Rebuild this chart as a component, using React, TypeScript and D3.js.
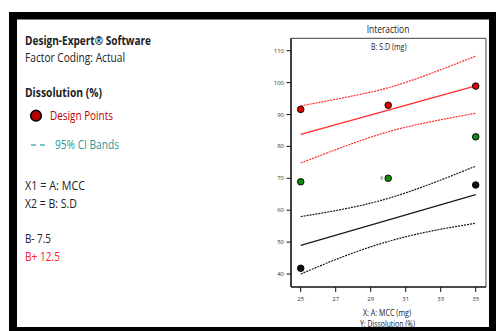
import React from "react";
import * as d3 from "d3";

// Factor A (MCC, mg) levels and axis ticks
const mccTicks = [25, 27, 29, 31, 33, 35];
const dissolutionTicks = [40, 50, 60, 70, 80, 90, 100, 110];

// Design points (Dissolution %) by level of B (S.D)
const redPointsX = [25, 30, 35];
const redPointsY = [91.6, 92.9, 98.9];
const greenPointsX = [25, 30, 35];
const greenPointsY = [68.9, 70.0, 83.0];
const blackPointsX = [25, 35];
const blackPointsY = [41.8, 67.9];

// Fitted lines and 95% CI bands
const fitX = [25, 35];
const fitHigh = [83.8, 99.0]; // B+ 12.5
const fitLow = [49.0, 64.9]; // B- 7.5
const bandX = [25, 27.5, 30, 32.5, 35];
const highUpper = [92.7, 95.3, 98.4, 103.0, 108.3];
const highLower = [74.8, 80.0, 84.6, 87.8, 90.4];
const lowUpper = [58.0, 60.4, 63.7, 68.4, 73.8];
const lowLower = [40.0, 45.6, 50.2, 53.5, 55.9];

const W = 496;
const H = 331;
const plot = { left: 291, right: 486, top: 38.3, bottom: 287 };
const FONT = "'Open Sans', 'Noto Sans', sans-serif";

export default function App() {
  const x = d3.scaleLinear().domain([25, 35]).range([300.7, 475.7]);
  const y = d3.scaleLinear().domain([40, 110]).range([274, 50.7]);

  const line = d3
    .line<[number, number]>()
    .x((d) => x(d[0]))
    .y((d) => y(d[1]))
    .curve(d3.curveNatural);

  const zip = (xs: number[], ys: number[]) =>
    xs.map((v, i) => [v, ys[i]] as [number, number]);

  const red = "#ff2b2b";
  const dark = "#1a1a1a";

  const points = [
    ...zip(redPointsX, redPointsY).map((p) => ({ p, fill: "#e00000" })),
    ...zip(greenPointsX, greenPointsY).map((p) => ({ p, fill: "#0b8a0b" })),
    ...zip(blackPointsX, blackPointsY).map((p) => ({ p, fill: "#111" })),
  ];

  const label = (
    txt: string,
    xPos: number,
    yPos: number,
    len: number,
    opts: { bold?: boolean; fill?: string; size?: number } = {}
  ) => (
    <text
      x={xPos}
      y={yPos}
      fontFamily={FONT}
      fontSize={opts.size ?? 12.5}
      fontWeight={opts.bold ? 700 : 400}
      fill={opts.fill ?? "#222"}
      textLength={len}
      lengthAdjust="spacingAndGlyphs"
    >
      {txt}
    </text>
  );

  return (
    <svg
      width={W}
      height={H}
      style={{ position: "absolute", left: 0, top: 0, background: "#fff" }}
    >
      {/* left-hand legend panel */}
      {label("Design-Expert® Software", 25, 44.5, 126, { bold: true })}
      {label("Factor Coding: Actual", 25, 61.5, 100)}
      {label("Dissolution (%)", 25, 96.5, 77, { bold: true })}
      <circle cx={36} cy={115.7} r={5.3} fill="#b80000" stroke="#000" strokeWidth={1.6} />
      {label("Design Points", 50, 120, 63, { fill: "#c00000" })}
      <line x1={31} x2={36} y1={145} y2={145} stroke="#3aa6a6" strokeWidth={1.3} />
      <line x1={40} x2={45} y1={145} y2={145} stroke="#3aa6a6" strokeWidth={1.3} />
      {label("95% CI Bands", 55, 149.3, 64, { fill: "#1f9a9a" })}
      {label("X1 = A: MCC", 25, 190, 60)}
      {label("X2 = B: S.D", 25, 207.5, 52)}
      {label("B- 7.5", 25, 243.3, 26)}
      {label("B+ 12.5", 25, 260.7, 35, { fill: "#ff2020" })}

      {/* chart titles */}
      {label("Interaction", 366.7, 33.3, 42.6, { size: 11 })}
      {label("B: S.D (mg)", 371, 50, 35.5, { size: 8.5 })}

      {/* plot frame */}
      <line x1={plot.left} x2={plot.right} y1={plot.top} y2={plot.top} stroke="#666" strokeWidth={1.2} />
      <line x1={plot.right} x2={plot.right} y1={plot.top} y2={plot.bottom} stroke="#666" strokeWidth={1.2} />
      <line x1={plot.left} x2={plot.left} y1={plot.top} y2={plot.bottom} stroke="#111" strokeWidth={1.6} />
      <line x1={plot.left} x2={plot.right} y1={plot.bottom} y2={plot.bottom} stroke="#111" strokeWidth={1.6} />

      {/* y axis */}
      {dissolutionTicks.map((t) => (
        <g key={`y${t}`}>
          <line x1={286.5} x2={plot.left} y1={y(t)} y2={y(t)} stroke="#111" strokeWidth={1} />
          <text x={284} y={y(t) + 2} textAnchor="end" fontFamily={FONT} fontSize={6} fill="#333">
            {t}
          </text>
        </g>
      ))}

      {/* x axis */}
      {mccTicks.map((t) => (
        <g key={`x${t}`}>
          <line x1={x(t)} x2={x(t)} y1={plot.bottom} y2={292} stroke="#111" strokeWidth={1} />
          <text x={x(t)} y={300.8} textAnchor="middle" fontFamily={FONT} fontSize={6} fill="#333">
            {t}
          </text>
        </g>
      ))}
      {label("X: A: MCC (mg)", 363, 315.5, 48, { size: 8.5 })}
      {label("Y: Dissolution (%)", 360, 327, 55, { size: 8.5 })}

      {/* CI bands */}
      <path d={line(zip(bandX, highUpper)) ?? ""} fill="none" stroke={red} strokeWidth={1.2} strokeDasharray="2,1" />
      <path d={line(zip(bandX, highLower)) ?? ""} fill="none" stroke={red} strokeWidth={1.2} strokeDasharray="2,1" />
      <path d={line(zip(bandX, lowUpper)) ?? ""} fill="none" stroke={dark} strokeWidth={1.2} strokeDasharray="2,1" />
      <path d={line(zip(bandX, lowLower)) ?? ""} fill="none" stroke={dark} strokeWidth={1.2} strokeDasharray="2,1" />

      {/* fitted lines */}
      <path d={line(zip(fitX, fitHigh)) ?? ""} fill="none" stroke={red} strokeWidth={1.3} />
      <path d={line(zip(fitX, fitLow)) ?? ""} fill="none" stroke={dark} strokeWidth={1.3} />

      {/* design points */}
      {points.map(({ p, fill }, i) => (
        <circle key={i} cx={x(p[0])} cy={y(p[1])} r={3.3} fill={fill} stroke="#000" strokeWidth={0.9} />
      ))}
      <text x={x(30) - 5} y={y(70) + 1.8} textAnchor="end" fontFamily={FONT} fontSize={5} fill="#333">
        6
      </text>

      {/* outer black frame */}
      <path d={`M9,12H${W}V${H}H9Z M17,19.5V327H489V19.5Z`} fill="#000" fillRule="evenodd" />
    </svg>
  );
}
